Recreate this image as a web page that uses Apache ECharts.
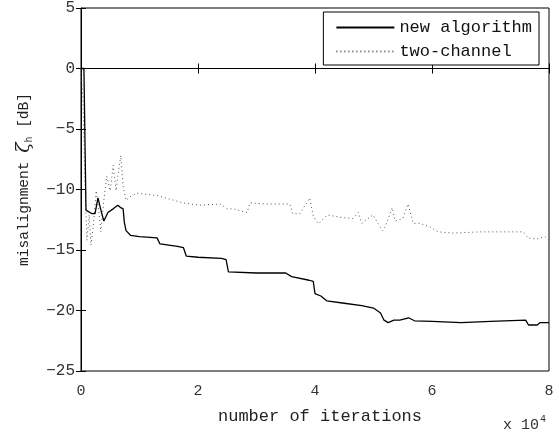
<!DOCTYPE html>
<html>
<head>
<meta charset="utf-8">
<script src="https://cdn.jsdelivr.net/npm/echarts@6/dist/echarts.min.js"></script>
<style>
  html, body { margin: 0; padding: 0; background: #fff; }
  #chart { width: 559px; height: 432px; }
</style>
</head>
<body>
<div id="chart"></div>
<script>
// iterations in units of 10^4, misalignment in dB
var newAlgX = [0, 0.05, 0.085, 0.19, 0.24, 0.29, 0.34, 0.39, 0.46, 0.55, 0.63, 0.68, 0.72, 0.74, 0.77, 0.85, 1.0, 1.3, 1.35, 1.65, 1.75, 1.8, 2.0, 2.4, 2.48, 2.52, 3.0, 3.5, 3.6, 3.9, 3.97, 4.0, 4.1, 4.2, 4.5, 4.8, 5.0, 5.12, 5.18, 5.25, 5.35, 5.45, 5.6, 5.7, 6.0, 6.5, 7.0, 7.6, 7.65, 7.8, 7.85, 8.0];
var newAlgY = [0, 0, -11.7, -12.0, -12.0, -10.7, -11.7, -12.6, -11.9, -11.6, -11.3, -11.5, -11.6, -12.7, -13.4, -13.8, -13.9, -14.0, -14.5, -14.7, -14.8, -15.5, -15.6, -15.7, -15.8, -16.8, -16.9, -16.9, -17.2, -17.5, -17.6, -18.6, -18.8, -19.2, -19.4, -19.6, -19.8, -20.2, -20.8, -21.0, -20.8, -20.8, -20.6, -20.85, -20.9, -21.0, -20.9, -20.8, -21.2, -21.2, -21.0, -21.0];

var twoChX = [0, 0.034, 0.068, 0.10, 0.14, 0.17, 0.21, 0.26, 0.31, 0.34, 0.39, 0.44, 0.50, 0.55, 0.60, 0.63, 0.68, 0.72, 0.77, 0.84, 0.96, 1.30, 1.52, 1.74, 2.03, 2.38, 2.50, 2.60, 2.84, 2.89, 3.18, 3.57, 3.62, 3.74, 3.91, 3.97, 4.05, 4.09, 4.21, 4.43, 4.65, 4.74, 4.80, 4.99, 5.15, 5.20, 5.32, 5.37, 5.50, 5.59, 5.68, 5.79, 5.97, 6.10, 6.36, 6.82, 7.56, 7.64, 7.79, 7.93, 8.0];
var twoChY = [0, -2.7, -9.3, -14.2, -12.1, -14.6, -13.0, -10.1, -12.1, -13.5, -10.9, -8.9, -10.1, -8.0, -10.1, -8.9, -7.2, -9.7, -10.9, -10.6, -10.3, -10.5, -10.8, -11.1, -11.3, -11.2, -11.6, -11.6, -11.9, -11.1, -11.2, -11.2, -12.0, -12.0, -10.7, -12.2, -12.8, -12.7, -12.1, -12.3, -12.4, -11.9, -12.8, -12.1, -13.4, -13.1, -11.5, -12.6, -12.4, -11.2, -12.8, -12.8, -13.1, -13.5, -13.6, -13.5, -13.5, -14.0, -14.1, -13.9, -14.2];

var xTicks = [0, 2, 4, 6, 8];
var yTicks = [-25, -20, -15, -10, -5, 0, 5];

function pairs(xs, ys) {
  var out = [];
  for (var i = 0; i < xs.length; i++) out.push([xs[i], ys[i]]);
  return out;
}

var font = '"Liberation Mono", "DejaVu Sans Mono", monospace';
var chart = echarts.init(document.getElementById('chart'));

var option = {
  animation: false,
  backgroundColor: '#fff',
  grid: {
    left: 81, right: 10, top: 7, bottom: 61,
    show: true, borderColor: '#000', borderWidth: 1
  },
  legend: {
    orient: 'vertical',
    right: 20, top: 12,
    padding: [7, 7, 5, 12],
    itemGap: 7,
    itemWidth: 58, itemHeight: 14,
    backgroundColor: '#fff',
    borderColor: '#000', borderWidth: 1,
    itemStyle: { opacity: 0 },
    textStyle: { fontFamily: font, fontSize: 17, color: '#111' },
    data: ['new algorithm', 'two-channel']
  },
  xAxis: [{
    type: 'value',
    min: 0, max: 8, interval: 2,
    name: 'number of iterations',
    nameLocation: 'middle',
    nameGap: 37,
    nameTextStyle: { fontFamily: font, fontSize: 17, color: '#222', padding: [0, 0, 0, 10] },
    axisLine: { show: true, lineStyle: { color: '#000' } },
    axisTick: { inside: true, length: 5, lineStyle: { color: '#000' } },
    axisLabel: { fontFamily: font, fontSize: 15, color: '#333', margin: 13,
      formatter: function (v) { return xTicks.indexOf(v) >= 0 ? String(v) : ''; } },
    splitLine: { show: false }
  }, {
    type: 'value', position: 'top',
    min: 0, max: 8, interval: 2,
    axisLine: { show: false },
    axisTick: { inside: true, length: 5, lineStyle: { color: '#000' } },
    axisLabel: { show: false },
    splitLine: { show: false }
  }],
  yAxis: [{
    type: 'value',
    min: -25, max: 5, interval: 5,
    name: 'misalignment {z|ζ}{s|h} [dB]',
    nameLocation: 'middle',
    nameGap: 47,
    nameRotate: 90,
    nameTextStyle: {
      fontFamily: font, fontSize: 14.5, color: '#222',
      padding: [0, 0, 0, 20],
      rich: {
        z: { fontFamily: 'DejaVu Serif, serif', fontSize: 19, color: '#222', fontStyle: 'italic' },
        s: { fontFamily: font, fontSize: 10, color: '#222', verticalAlign: 'bottom', padding: [10, 0, 0, 0] }
      }
    },
    axisLine: { show: true, lineStyle: { color: '#000' } },
    axisTick: { inside: true, length: 5, lineStyle: { color: '#000' } },
    axisLabel: { fontFamily: font, fontSize: 16, color: '#333', margin: 6,
      formatter: function (v) { return yTicks.indexOf(v) >= 0 ? String(v).replace('-', '\u2212') : ''; } },
    splitLine: { show: false }
  }, {
    type: 'value', position: 'right',
    min: -25, max: 5, interval: 5,
    axisLine: { show: false },
    axisTick: { show: true, inside: true, length: 5, lineStyle: { color: '#000' } },
    axisLabel: { show: false },
    splitLine: { show: false }
  }],
  graphic: [{
    type: 'text',
    left: 503, top: 414,
    style: {
      text: 'x 10{sup|4}',
      fontFamily: font, fontSize: 15, fill: '#333',
      rich: { sup: { fontFamily: font, fontSize: 10, fill: '#333', verticalAlign: 'top', padding: [0, 0, 12, 1] } }
    }
  }],
  series: [{
    name: 'new algorithm',
    type: 'line',
    data: pairs(newAlgX, newAlgY),
    symbol: 'none',
    z: 3,
    lineStyle: { color: '#000', width: 1.3 },
    itemStyle: { color: '#000' }
  }, {
    name: 'two-channel',
    type: 'line',
    data: pairs(twoChX, twoChY),
    symbol: 'none',
    z: 2,
    lineStyle: { color: '#555', width: 1, type: [1, 3] },
    itemStyle: { color: '#555' }
  }]
};

chart.setOption(option);
</script>
</body>
</html>
